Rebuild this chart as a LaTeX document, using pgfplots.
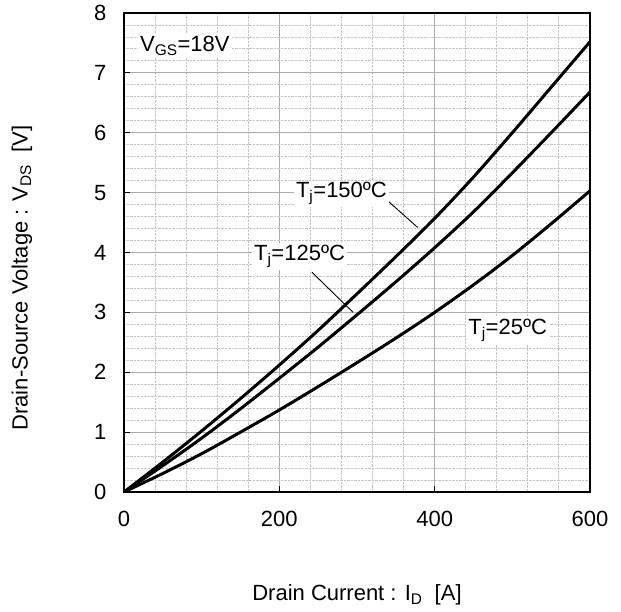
\documentclass[border=0pt]{standalone}
\usepackage{pgfplots}
\pgfplotsset{compat=1.18}
\usepackage{fontspec}
\setmainfont{Liberation Sans}

\begin{document}
\fontsize{22}{26}\selectfont
\begin{tikzpicture}
\path[use as bounding box] (-124pt,-119pt) rectangle (497pt,492pt);
\begin{axis}[at={(0,0)},anchor=south west,scale only axis,width=466pt,height=479pt,
 xmin=0,xmax=600,ymin=0,ymax=8,
 xtick={0,200,400,600},ytick={0,1,...,8},
 minor x tick num=4,minor y tick num=4,
 grid=both,
 major grid style={gray!65,line width=0.9pt},
 minor grid style={gray!45,densely dotted,line width=0.9pt},
 axis line style={line width=2pt},
 tick style={black,line width=0.9pt},major tick length=6pt,minor tick length=0pt,
 tick align=inside,
 xtick pos=bottom,ytick pos=left,
 /pgf/number format/assume math mode=true,
 ticklabel style={font=\fontsize{22}{26}\selectfont},
 xticklabel style={yshift=-12pt},
 yticklabel style={xshift=-10pt},
 xlabel={Drain Current : I\textsubscript{D}\ \ [A]},
 ylabel={Drain-Source Voltage : V\textsubscript{DS}\ \ [V]},
 xlabel style={at={(axis description cs:0.5,-0.215)},anchor=center},
 ylabel style={at={(axis description cs:-0.219,0.447)},anchor=center,rotate=0},
 label style={font=\fontsize{22}{26}\selectfont},
 clip=true]
% Tj = 150 C
\addplot[black,line width=3pt,smooth,no marks] coordinates {(0,0)(50,0.5)(100,1.02)(150,1.56)(200,2.12)(250,2.7)(300,3.31)(350,3.93)(400,4.57)(450,5.26)(500,6.0)(550,6.76)(600,7.52)};
% Tj = 125 C
\addplot[black,line width=3pt,smooth,no marks] coordinates {(0,0)(50,0.44)(100,0.9)(150,1.39)(200,1.9)(250,2.42)(300,2.96)(350,3.51)(400,4.08)(450,4.68)(500,5.33)(550,6.0)(600,6.68)};
% Tj = 25 C
\addplot[black,line width=3pt,smooth,no marks] coordinates {(0,0)(50,0.31)(100,0.64)(150,1.0)(200,1.37)(250,1.76)(300,2.16)(350,2.57)(400,3.0)(450,3.46)(500,3.95)(550,4.48)(600,5.03)};
\node[fill=white,inner sep=2pt,anchor=west] at (axis cs:18,7.45) {V\textsubscript{GS}=18V};
\draw[line width=0.9pt] (axis cs:339,4.87) -- (axis cs:378,4.42);
\draw[line width=0.9pt] (axis cs:242,3.67) -- (axis cs:295,3.0);
\node[fill=white,inner sep=2pt] at (axis cs:280,4.98) {T\textsubscript{j}=150ºC};
\node[fill=white,inner sep=2pt] at (axis cs:226,3.93) {T\textsubscript{j}=125ºC};
\node[fill=white,inner sep=2pt] at (axis cs:494,2.7) {T\textsubscript{j}=25ºC};
\end{axis}
\end{tikzpicture}
\end{document}
